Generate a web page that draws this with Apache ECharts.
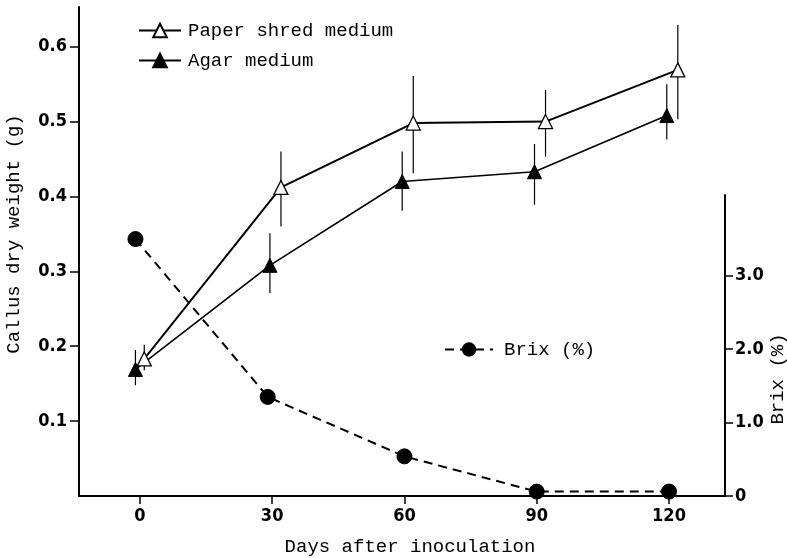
<!DOCTYPE html>
<html>
<head>
<meta charset="utf-8">
<script src="https://cdn.jsdelivr.net/npm/echarts@6/dist/echarts.min.js"></script>
<style>html,body{margin:0;padding:0;background:#fff}#c{width:787px;height:558px}</style>
</head>
<body>
<div id="c"></div>
<script>
const dayTicks = [0, 30, 60, 90, 120];
const weightTicks = [0.1, 0.2, 0.3, 0.4, 0.5, 0.6];
const brixTicks = [0, 1, 2, 3];

const paperDays = [1, 32, 62, 92, 122];
const paperWeight = [0.183, 0.412, 0.498, 0.500, 0.569];
const paperLow = [0.168, 0.360, 0.431, 0.453, 0.503];
const paperHigh = [0.202, 0.460, 0.561, 0.542, 0.629];

const agarDays = [-1, 29.5, 59.5, 89.5, 119.5];
const agarWeight = [0.169, 0.308, 0.420, 0.433, 0.508];
const agarLow = [0.148, 0.271, 0.381, 0.389, 0.476];
const agarHigh = [0.195, 0.351, 0.460, 0.470, 0.550];

const brixDays = [-1, 29, 60, 90, 120];
const brixValues = [3.5, 1.35, 0.54, 0.06, 0.06];

const mono = "'Liberation Mono', 'DejaVu Sans Mono', monospace";
const tickFont = "'Liberation Sans Narrow', 'DejaVu Sans Condensed', 'Roboto', sans-serif";

const zip = (a, b) => a.map((v, i) => [v, b[i]]);
const zip3 = (a, b, c) => a.map((v, i) => [v, b[i], c[i]]);

function errRender(params, api) {
  const x = api.value(0);
  const p1 = api.coord([x, api.value(1)]);
  const p2 = api.coord([x, api.value(2)]);
  return { type: 'line', shape: { x1: p1[0], y1: p1[1], x2: p2[0], y2: p2[1] },
           style: { stroke: '#000', lineWidth: 1.2 } };
}

const axisLineStyle = { color: '#000', width: 2 };
const tickLabel = { color: '#000', fontFamily: tickFont, fontWeight: 'bold', fontSize: 18 };

const chart = echarts.init(document.getElementById('c'), null, { renderer: 'canvas' });
chart.setOption({
  backgroundColor: '#fff',
  animation: false,
  grid: [
    { left: 79, right: 62, top: 7, bottom: 62 },
    { left: 79, right: 62, top: 195, bottom: 62 }
  ],
  xAxis: [
    { type: 'value', gridIndex: 0, min: -13.8, max: 132.7,
      axisLine: { show: true, onZero: false, lineStyle: axisLineStyle },
      axisTick: { show: true, length: 8, customValues: dayTicks, lineStyle: { color: '#000', width: 1.5 } },
      axisLabel: Object.assign({ customValues: dayTicks, margin: 11 }, tickLabel),
      splitLine: { show: false } },
    { type: 'value', gridIndex: 1, min: -13.8, max: 132.7, show: false, splitLine: { show: false } }
  ],
  yAxis: [
    { type: 'value', gridIndex: 0, position: 'left', min: 0, max: 0.653,
      axisLine: { show: true, onZero: false, lineStyle: axisLineStyle },
      axisTick: { show: true, length: 9, customValues: weightTicks, lineStyle: { color: '#000', width: 1.5 } },
      axisLabel: Object.assign({ customValues: weightTicks, margin: 12,
        formatter: v => v.toFixed(1) }, tickLabel),
      splitLine: { show: false } },
    { type: 'value', gridIndex: 1, position: 'right', min: 0, max: 4.1,
      axisLine: { show: true, onZero: false, lineStyle: axisLineStyle },
      axisTick: { show: true, length: 8, customValues: brixTicks, lineStyle: { color: '#000', width: 1.5 } },
      axisLabel: Object.assign({ customValues: brixTicks, margin: 10,
        formatter: v => v === 0 ? '0' : v.toFixed(1) }, tickLabel),
      splitLine: { show: false } }
  ],
  legend: [
    { data: ['Paper shred medium', 'Agar medium'], orient: 'vertical', left: 133, top: 15,
      itemWidth: 42, itemHeight: 17, itemGap: 9,
      textStyle: { fontFamily: mono, fontSize: 19, color: '#000', lineHeight: 21, padding: [0, 0, 0, 2] } },
    { data: ['Brix (%)'], left: 439, top: 334, itemWidth: 48, itemHeight: 18,
      textStyle: { fontFamily: mono, fontSize: 19, color: '#000', lineHeight: 21, padding: [0, 0, 0, 6] } }
  ],
  series: [
    { type: 'custom', name: 'paperErr', xAxisIndex: 0, yAxisIndex: 0, z: 1,
      renderItem: errRender, encode: { x: 0, y: [1, 2] }, data: zip3(paperDays, paperLow, paperHigh) },
    { type: 'custom', name: 'agarErr', xAxisIndex: 0, yAxisIndex: 0, z: 1,
      renderItem: errRender, encode: { x: 0, y: [1, 2] }, data: zip3(agarDays, agarLow, agarHigh) },
    { type: 'line', name: 'Paper shred medium', xAxisIndex: 0, yAxisIndex: 0, z: 3,
      data: zip(paperDays, paperWeight), symbol: 'triangle', symbolSize: 14, showAllSymbol: true,
      lineStyle: { color: '#000', width: 2 },
      itemStyle: { color: '#fff', borderColor: '#000', borderWidth: 1.3 } },
    { type: 'line', name: 'Agar medium', xAxisIndex: 0, yAxisIndex: 0, z: 3,
      data: zip(agarDays, agarWeight), symbol: 'triangle', symbolSize: 14, showAllSymbol: true,
      lineStyle: { color: '#000', width: 1.6 },
      itemStyle: { color: '#000', borderColor: '#000', borderWidth: 1 } },
    { type: 'line', name: 'Brix (%)', xAxisIndex: 1, yAxisIndex: 1, z: 2,
      data: zip(brixDays, brixValues), symbol: 'circle', symbolSize: 15, showAllSymbol: true,
      lineStyle: { color: '#000', width: 2, type: [9, 6] },
      itemStyle: { color: '#000', borderColor: '#000' } }
  ],
  graphic: [
    { type: 'text', x: 14, y: 234, rotation: Math.PI / 2,
      style: { text: 'Callus dry weight (g)', font: "19px 'Liberation Mono', 'DejaVu Sans Mono', monospace",
               fill: '#000', align: 'center', verticalAlign: 'middle' } },
    { type: 'text', x: 410, y: 547,
      style: { text: 'Days after inoculation', font: "19px 'Liberation Mono', 'DejaVu Sans Mono', monospace",
               fill: '#000', align: 'center', verticalAlign: 'middle' } },
    { type: 'text', x: 778, y: 379, rotation: Math.PI / 2,
      style: { text: 'Brix (%)', font: "19px 'Liberation Mono', 'DejaVu Sans Mono', monospace",
               fill: '#000', align: 'center', verticalAlign: 'middle' } }
  ]
});
</script>
</body>
</html>
